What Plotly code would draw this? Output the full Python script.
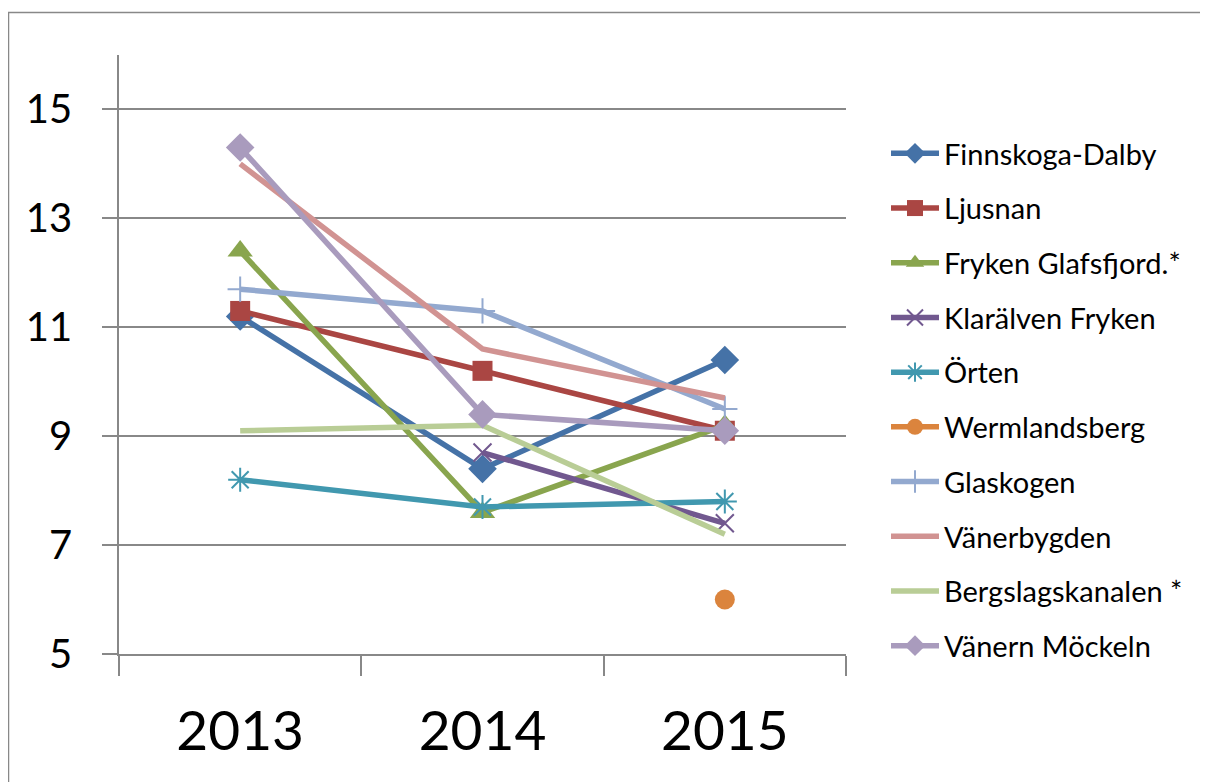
import plotly.graph_objects as go

years = ["2013", "2014", "2015"]
series_names = ["Finnskoga-Dalby", "Ljusnan", "Fryken Glafsfjord.*", "Klarälven Fryken", "Örten",
                "Wermlandsberg", "Glaskogen", "Vänerbygden", "Bergslagskanalen *", "Vänern Möckeln"]
finnskoga = [11.2, 8.4, 10.4]
ljusnan = [11.3, 10.2, 9.1]
fryken = [12.4, 7.6, 9.2]
klaralven = [None, 8.7, 7.4]
orten = [8.2, 7.7, 7.8]
wermlandsberg = [None, None, 6.0]
glaskogen = [11.7, 11.3, 9.5]
vanerbygden = [14.0, 10.6, 9.7]
bergslagskanalen = [9.1, 9.2, 7.2]
vanern_mockeln = [14.3, 9.4, 9.1]
y_ticks = [5, 7, 9, 11, 13, 15]

values = [finnskoga, ljusnan, fryken, klaralven, orten, wermlandsberg, glaskogen,
          vanerbygden, bergslagskanalen, vanern_mockeln]
colors = ["#4572A7", "#AA4643", "#89A54E", "#71588F", "#4198AF", "#DB843D",
          "#93A9CF", "#D19392", "#B9CD96", "#A99BBD"]
symbols = ["diamond", "square", "triangle-up", "x-thin-open", "asterisk-open", "circle",
           "cross-thin-open", None, None, "diamond"]
sizes = [22, 20, 22, 18, 20, 20, 18, 0, 0, 22]

fig = go.Figure()
for i, (name, vals) in enumerate(zip(series_names, values)):
    sym = symbols[i]
    mode = "lines+markers" if sym else "lines"
    marker = dict(color=colors[i], size=sizes[i], symbol=sym or "circle",
                  line=dict(color=colors[i], width=2 if sym and "open" in sym else 0))
    fig.add_trace(go.Scatter(
        x=years, y=vals, name=name, mode=mode,
        line=dict(color=colors[i], width=5.5),
        marker=marker, legendgroup=f"g{i}", connectgaps=False,
    ))

# page body has an 8px offset; screen coords = figure coords + 8
OFF = 8
W, H = 1208, 782
L, R, T, B = 119 - OFF, W - (846 - OFF), 55 - OFF, H - (654 - OFF)
pw, ph = W - L - R, H - T - B

def px_x(sx):
    return (sx - OFF - L) / pw

def px_y(sy):
    return (T + ph - (sy - OFF)) / ph

fig.update_layout(
    width=W, height=H,
    margin=dict(l=L, r=R, t=T, b=B),
    paper_bgcolor="white", plot_bgcolor="white",
    font=dict(family="Lato, Carlito, Calibri, sans-serif", color="black"),
    showlegend=True,
    legend=dict(
        x=px_x(886), xanchor="left",
        y=px_y(128), yanchor="top",
        font=dict(size=29), tracegroupgap=14, traceorder="grouped",
        bgcolor="rgba(0,0,0,0)", itemwidth=48,
    ),
    xaxis=dict(
        type="category", range=[-0.5, 2.5], showgrid=False,
        showline=True, linecolor="#888888", linewidth=1.5,
        ticks="outside", tickson="boundaries", ticklen=20, tickcolor="#888888", tickwidth=1.5,
        tickfont=dict(size=55), ticklabelstandoff=28,
    ),
    yaxis=dict(
        range=[5, 16], tickvals=y_ticks, showgrid=True, gridcolor="#888888", gridwidth=1.5,
        showline=True, linecolor="#888888", linewidth=1.5, zeroline=False,
        ticks="outside", ticklen=15, tickcolor="#888888", tickwidth=1.5,
        tickfont=dict(size=40), ticklabelstandoff=22,
    ),
    shapes=[dict(
        type="rect", xref="paper", yref="paper",
        x0=px_x(8.5), x1=px_x(W + 20),
        y0=px_y(H + 20), y1=px_y(12.5),
        line=dict(color="#888888", width=1.5), fillcolor="rgba(0,0,0,0)", layer="below",
    )],
)

fig.write_html("out.html")
